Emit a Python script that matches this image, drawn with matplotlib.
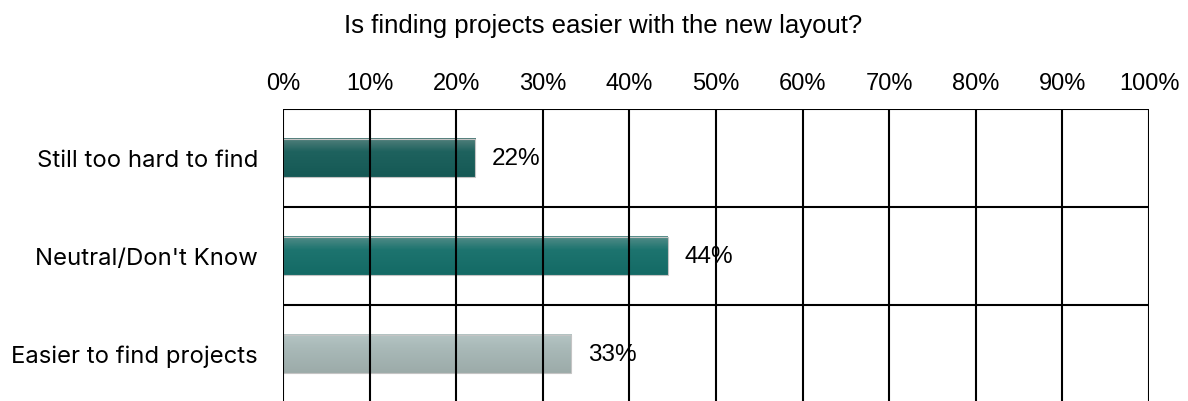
import matplotlib.pyplot as plt
import numpy as np
from matplotlib.colors import LinearSegmentedColormap

plt.rcParams["font.family"] = ["Liberation Sans", "DejaVu Sans"]

# survey answers, top to bottom
categories = ["Still too hard to find", "Neutral/Don't Know", "Easier to find projects"]
shares = [22.2, 44.4, 33.3]
# vertical gradient stops for each bar: top edge, body, bottom edge
bar_stops = [
    ["#527f7b", "#1e625e", "#155955"],
    ["#548c88", "#1d746f", "#146a65"],
    ["#b4c4c3", "#a9b9b8", "#9caba9"],
]
ticks = list(range(0, 101, 10))

fig = plt.figure(figsize=(11.88, 4.02), dpi=100)
ax = fig.add_axes([0.2382, -0.004, 0.729, 0.7304])

bar_h = 0.39
ypos = np.arange(len(categories))
ramp = np.linspace(0, 1, 64)[:, None]
for y, v, stops in zip(ypos, shares, bar_stops):
    cmap = LinearSegmentedColormap.from_list(
        "bar", list(zip([0, 0.35, 1], stops)))
    ax.imshow(np.repeat(ramp, 2, axis=1), cmap=cmap,
              extent=(0, v, y + bar_h / 2, y - bar_h / 2),
              aspect="auto", interpolation="bilinear", zorder=3)
    ax.barh(y, v, height=bar_h, color="none", edgecolor="#c4c4c4",
            lw=0.8, zorder=4)
    ax.annotate(f"{v:.0f}%", (v, y), xytext=(12, 0), textcoords="offset points",
                ha="left", va="center", fontsize=17.5, color="black", zorder=2)

ax.set_xlim(0, 100)
ax.set_ylim(len(categories) - 0.5, -0.5)

# cell grid: every 10% and between categories
for t in ticks:
    ax.axvline(t, color="black", lw=1.5, zorder=5)
for k in range(len(categories) + 1):
    ax.axhline(k - 0.5, color="black", lw=1.5, zorder=5)
for s in ax.spines.values():
    s.set_visible(False)

ax.xaxis.tick_top()
ax.set_xticks(ticks, [f"{t}%" for t in ticks], fontsize=17)
ax.tick_params(axis="x", length=0, pad=11)
ax.set_yticks(ypos, categories, fontsize=17.2, family=["Inter", "DejaVu Sans"])
ax.tick_params(axis="y", length=0, pad=18)

fig.text(0.508, 0.935, "Is finding projects easier with the new layout?",
         ha="center", va="center", fontsize=18.5)

fig.savefig("out.png", dpi=100)
